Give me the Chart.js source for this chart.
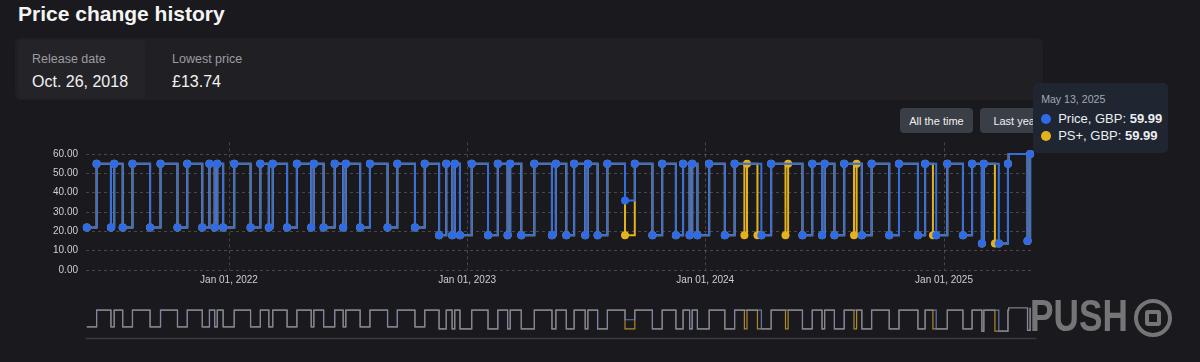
<!DOCTYPE html>
<html>
<head>
<meta charset="utf-8">
<script src="https://cdn.jsdelivr.net/npm/chart.js@4.4.1/dist/chart.umd.min.js"></script>
<style>
html,body{margin:0;padding:0;width:1200px;height:362px;overflow:hidden;background:#1a1a1e;font-family:"Liberation Sans",Arial,Helvetica,sans-serif;}
.abs{position:absolute;}
#title{left:18px;top:2.5px;font-size:21px;line-height:21px;font-weight:700;color:#f4f4f4;white-space:nowrap;}
#panel{left:15px;top:38px;width:1028px;height:62px;background:#202024;border-radius:6px;}
#card1{left:18px;top:40px;width:127px;height:59px;background:#242428;border-radius:4px;}
.lbl{font-size:12.5px;line-height:12.5px;color:#9c9ca2;white-space:nowrap;}
.val{font-size:16px;line-height:16px;color:#f2f2f2;white-space:nowrap;}
.btn{height:25px;top:108px;background:#3a3e47;color:#f0f0f0;font-size:11px;border-radius:4px;display:flex;align-items:center;justify-content:center;white-space:nowrap;}
canvas{position:absolute;}
#tt{position:absolute;width:135px;height:70px;background:#1f2631;border-radius:5px;z-index:5;}
#tt .t{position:absolute;left:8px;top:10.6px;font-size:10.6px;line-height:10.6px;color:#a3a8b2;white-space:nowrap;}
#tt .r{position:absolute;left:25px;font-size:13px;line-height:13px;color:#eceef2;white-space:nowrap;}
#tt .d{position:absolute;left:7.7px;width:10px;height:10px;border-radius:50%;}
#wm{left:1030px;top:294px;height:44px;z-index:3;}
#wmt{position:absolute;left:0;top:0;font-size:44px;line-height:44px;font-weight:700;color:rgba(255,255,255,0.4);transform:scaleX(0.8);transform-origin:0 0;}
#wmc{position:absolute;left:104px;top:5px;width:30px;height:30px;border:4px solid rgba(255,255,255,0.4);border-radius:50%;}
#wmi{position:absolute;left:7px;top:7px;width:8px;height:8px;border:4px solid rgba(255,255,255,0.4);border-radius:3px;}
</style>
</head>
<body>
<div id="title" class="abs">Price change history</div>
<div id="panel" class="abs"></div>
<div id="card1" class="abs"></div>
<div class="abs lbl" style="left:32px;top:53.4px;">Release date</div>
<div class="abs val" style="left:32px;top:74px;">Oct. 26, 2018</div>
<div class="abs lbl" style="left:172px;top:53.4px;">Lowest price</div>
<div class="abs val" id="lowest" style="left:172px;top:74px;"></div>
<div class="abs btn" style="left:900px;width:73px;">All the time</div>
<div class="abs btn" style="left:980px;width:72px;">Last year</div>
<canvas id="main" width="1045" height="175" style="left:0;top:120px;z-index:2;"></canvas>
<canvas id="nav" width="1045" height="45" style="left:0;top:300px;z-index:2;"></canvas>
<div id="tt"></div>
<div id="wm" class="abs"><div id="wmt">PUSH</div><div id="wmc"><div id="wmi"></div></div></div>
<script>
// ---- data ----
const priceDates = [
'2021-05-28','2021-06-12','2021-07-04','2021-07-09','2021-07-22','2021-08-06','2021-09-02','2021-09-18',
'2021-10-14','2021-10-29','2021-11-21','2021-12-02','2021-12-10','2021-12-14','2021-12-23',
'2022-01-09','2022-02-03','2022-02-18','2022-03-03','2022-03-09','2022-03-31','2022-04-15','2022-05-07','2022-05-11',
'2022-05-26','2022-06-12','2022-06-25','2022-06-29','2022-07-21','2022-08-05','2022-09-01','2022-09-16','2022-10-13','2022-10-28',
'2022-11-19','2022-11-30','2022-12-09','2022-12-13','2022-12-21',
'2023-01-08','2023-02-02','2023-02-17','2023-03-04','2023-03-08','2023-03-25','2023-04-14','2023-05-11','2023-05-17',
'2023-06-02','2023-06-14','2023-07-01','2023-07-05','2023-07-20','2023-08-04','2023-08-31','2023-09-15','2023-10-12','2023-10-27',
'2023-11-17','2023-11-28','2023-12-08','2023-12-12','2023-12-20',
'2024-01-07','2024-01-31','2024-02-15','2024-03-27','2024-04-11','2024-05-29','2024-06-13','2024-06-28','2024-07-02','2024-07-17','2024-08-01',
'2024-08-28','2024-09-12','2024-10-09','2024-10-24','2024-11-22','2024-12-03','2024-12-20',
'2025-01-06','2025-01-30','2025-02-13','2025-02-28','2025-03-03','2025-03-26','2025-04-09','2025-04-10','2025-05-09','2025-05-13'];
const priceValues = [
21.99,54.99,21.99,54.99,21.99,54.99,21.99,54.99,
21.99,54.99,21.99,54.99,21.99,54.99,21.99,
54.99,21.99,54.99,21.99,54.99,21.99,54.99,21.99,54.99,
21.99,54.99,21.99,54.99,21.99,54.99,21.99,54.99,21.99,54.99,
17.99,54.99,17.99,54.99,17.99,
54.99,17.99,54.99,17.99,54.99,17.99,54.99,17.99,54.99,
17.99,54.99,17.99,54.99,17.99,54.99,35.99,54.99,17.99,54.99,
17.99,54.99,17.99,54.99,17.99,
54.99,17.99,54.99,17.99,54.99,17.99,54.99,17.99,54.99,17.99,54.99,
17.99,54.99,17.99,54.99,17.99,54.99,17.99,
54.99,17.99,54.99,13.74,54.99,13.74,54.99,59.99,14.99,59.99];
// PS+ only discounts (PS+ price otherwise equals the regular price)
const psDealStart = ['2023-08-31','2024-03-01','2024-03-21','2024-05-03','2024-08-16','2024-12-15','2025-03-20'];
const psDealEnd   = ['2023-09-15','2024-03-05','2024-03-27','2024-05-07','2024-08-20','2024-12-20','2025-03-26'];
const psDealPrice = [17.99,17.99,17.99,17.99,17.99,17.99,13.74];
const xTickDates  = ['2022-01-01','2023-01-01','2024-01-01','2025-01-01'];
const xTickLabels = ['Jan 01, 2022','Jan 01, 2023','Jan 01, 2024','Jan 01, 2025'];
const yTickValues = [0,10,20,30,40,50,60];
const seriesLabels = ['Price, GBP','PS+, GBP'];
const xRange = ['2021-05-26','2025-05-18'];
const months = ['Jan','Feb','Mar','Apr','May','Jun','Jul','Aug','Sep','Oct','Nov','Dec'];

// ---- build series ----
const T = s => Date.parse(s);
const DAY = 86400000;
const pricePts = priceDates.map((d,i)=>({x:T(d), y:priceValues[i]}));
function priceAt(t){ let v = priceValues[0]; for(let i=0;i<priceDates.length;i++){ if(T(priceDates[i])<=t) v=priceValues[i]; } return v; }
function psAt(t){ for(let k=0;k<psDealStart.length;k++){ if(t>=T(psDealStart[k]) && t<T(psDealEnd[k])) return psDealPrice[k]; } return priceAt(t); }
const psTimes = Array.from(new Set([...priceDates,...psDealStart,...psDealEnd].map(T))).sort((a,b)=>a-b);
const psPts = psTimes.map(t=>({x:t, y:psAt(t)}));

document.getElementById('lowest').textContent = '£' + Math.min(...priceValues).toFixed(2);

const BLUE='#356ddd', BLUE_PT='#2e6be8', YEL='#e4b21c', GRID='rgba(255,255,255,0.2)', TXT='#cfcfd2';
Chart.defaults.font.family = "'Liberation Sans', Arial, Helvetica, sans-serif";

// a marker is not drawn when a change follows the previous one within a day
const markerRadius = ctx => {
  const d = ctx.dataset.data, i = ctx.dataIndex;
  return (i>0 && d[i].x - d[i-1].x <= DAY) ? 0 : 4;
};

const main = new Chart(document.getElementById('main'), {
  type:'line',
  data:{datasets:[
    {label:seriesLabels[0], data:pricePts, stepped:true, borderColor:BLUE, borderWidth:2,
     pointRadius:markerRadius, pointHoverRadius:markerRadius, pointBackgroundColor:BLUE_PT, pointBorderWidth:0, pointHoverBorderWidth:0, clip:false},
    {label:seriesLabels[1], data:psPts, stepped:true, borderColor:YEL, borderWidth:2,
     pointRadius:markerRadius, pointHoverRadius:markerRadius, pointBackgroundColor:YEL, pointBorderWidth:0, pointHoverBorderWidth:0, clip:false}
  ]},
  options:{
    responsive:false, animation:false, events:[], devicePixelRatio:1,
    layout:{padding:{left:0,right:11.6,top:22.4,bottom:0}},
    plugins:{legend:{display:false}, tooltip:{enabled:false}},
    scales:{
      x:{type:'linear', bounds:'data', min:T(xRange[0]), max:T(xRange[1]),
         afterBuildTicks:s=>{ s.ticks = xTickDates.map(d=>({value:T(d)})); },
         afterFit:s=>{ s.height = 25; },
         grid:{color:GRID, drawTicks:false, lineWidth:1},
         border:{display:false, dash:[3,3]},
         ticks:{color:TXT, font:{size:10}, padding:4, maxRotation:0, autoSkip:false, callback:(v,i)=>xTickLabels[i]}},
      y:{type:'linear', bounds:'data', min:0, max:66,
         afterBuildTicks:s=>{ s.ticks = yTickValues.map(v=>({value:v})); },
         afterFit:s=>{ s.width = 85.5; },
         grid:{color:GRID, drawTicks:false, lineWidth:1},
         border:{display:false, dash:[3,3]},
         ticks:{color:TXT, font:{size:10}, padding:7.5, callback:v=>Number(v).toFixed(2)}}
    }
  }
});

const baseline = {id:'baseline', afterDraw(c){ const a=c.chartArea, ctx=c.ctx; ctx.save(); ctx.strokeStyle='#3a3a3f'; ctx.lineWidth=1.5; ctx.beginPath(); ctx.moveTo(a.left, a.bottom+0.5); ctx.lineTo(a.right+3, a.bottom+0.5); ctx.stroke(); ctx.restore(); }};
new Chart(document.getElementById('nav'), {
  type:'line',
  data:{datasets:[
    {data:pricePts, stepped:true, borderColor:'rgba(115,135,200,0.85)', borderWidth:1.2, pointRadius:0},
    {data:psPts, stepped:true, borderColor:'rgba(190,150,40,0.9)', borderWidth:1.2, pointRadius:0}
  ]},
  options:{
    responsive:false, animation:false, events:[], devicePixelRatio:1,
    layout:{padding:{left:85.5,right:11.6,top:7.6,bottom:7}},
    plugins:{legend:{display:false}, tooltip:{enabled:false}},
    scales:{ x:{type:'linear', display:false, bounds:'data', min:T(xRange[0]), max:T(xRange[1])},
             y:{type:'linear', display:false, bounds:'data', min:0, max:60} }
  },
  plugins:[baseline]
});

// ---- tooltip for the last point ----
(function(){
  const li = pricePts.length-1, p = pricePts[li];
  const canvasTop = 120;
  const px = main.scales.x.getPixelForValue(p.x);
  const py = main.scales.y.getPixelForValue(p.y) + canvasTop;
  const tt = document.getElementById('tt');
  tt.style.left = (px+3)+'px'; tt.style.top = (py-71)+'px';
  const dt = new Date(p.x);
  const title = months[dt.getUTCMonth()]+' '+dt.getUTCDate()+', '+dt.getUTCFullYear();
  const psv = psPts.find(q=>q.x===p.x).y;
  const vals = [p.y, psv], cols = [BLUE_PT, YEL];
  let html = '<div class="t">'+title+'</div>';
  vals.forEach((v,i)=>{
    html += '<div class="d" style="top:'+(31.3+i*16.9)+'px;background:'+cols[i]+'"></div>';
    html += '<div class="r" style="top:'+(28.6+i*16.9)+'px">'+seriesLabels[i]+': <b>'+v.toFixed(2)+'</b></div>';
  });
  tt.innerHTML = html;
})();
</script>
</body>
</html>
